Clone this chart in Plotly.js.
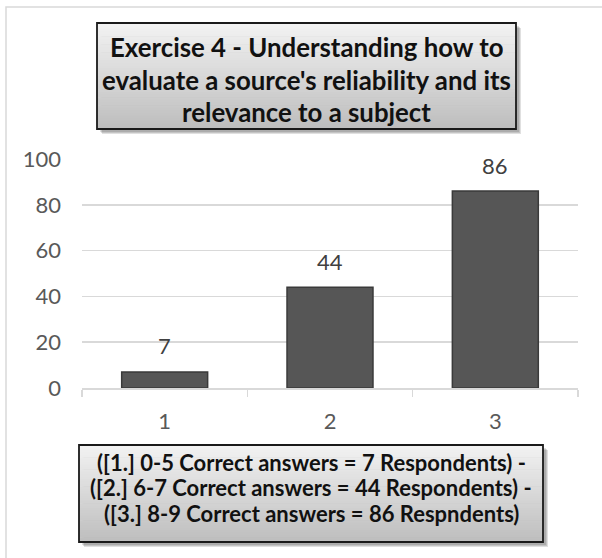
<!DOCTYPE html>
<html><head><meta charset="utf-8">
<script src="https://cdn.plot.ly/plotly-3.0.1.min.js"></script>
<style>html,body{margin:0;padding:0;background:#fff}#chart{width:602px;height:558px}</style>
</head><body><div id="chart"></div>
<script>
const categories = ['1', '2', '3'];
const respondents = [7, 44, 86];
const yTicks = [0, 20, 40, 60, 80, 100];
const titleLines = ['Exercise 4 - Understanding how to', "evaluate a source's reliability and its", 'relevance to a subject'];
const footLines = ['([1.] 0-5 Correct answers = 7 Respondents) -', '([2.] 6-7 Correct answers = 44 Respondents) -', '([3.] 8-9 Correct answers = 86 Respndents)'];

const W = 602, H = 558, L = 82, R = 24, T = 159, B = 170;
const pw = W - L - R, ph = H - T - B;
const PX = x => (x - L) / pw;
const PY = y => (H - B - y) / ph;
const FONT = 'Lato, "Open Sans", sans-serif';

const shapes = [];
// outer chart border
shapes.push({type:'rect', xref:'paper', yref:'paper', x0:PX(6), x1:PX(640), y0:PY(7), y1:PY(600), line:{color:'#d9d9d9', width:1.5}, fillcolor:'rgba(0,0,0,0)', layer:'below'});

function gradBox(x0, y0, x1, y1) {
  for (let i = 3; i >= 1; i--) {
    shapes.push({type:'rect', xref:'paper', yref:'paper', x0:PX(x0 + 2 + i), x1:PX(x1 + 2 + i), y0:PY(y0 + 2 + i), y1:PY(y1 + 2 + i), line:{width:0}, fillcolor:'rgba(0,0,0,0.12)'});
  }
  const n = 40;
  const c0 = [242, 242, 242], c1 = [190, 190, 190];
  for (let i = 0; i < n; i++) {
    const t = i / (n - 1);
    const c = c0.map((v, k) => Math.round(v + (c1[k] - v) * t));
    const ya = y0 + (y1 - y0) * i / n, yb = y0 + (y1 - y0) * (i + 1) / n + 0.6;
    shapes.push({type:'rect', xref:'paper', yref:'paper', x0:PX(x0), x1:PX(x1), y0:PY(ya), y1:PY(yb), line:{width:0}, fillcolor:'rgb(' + c.join(',') + ')'});
  }
  shapes.push({type:'rect', xref:'paper', yref:'paper', x0:PX(x0), x1:PX(x1), y0:PY(y0), y1:PY(y1), line:{color:'#1a1a1a', width:1.8}, fillcolor:'rgba(0,0,0,0)'});
}
gradBox(97, 23, 516, 129);
gradBox(79, 445, 543, 542);

const annotations = [];
const titleY = [46, 79, 111];
titleLines.forEach((t, i) => annotations.push({xref:'paper', yref:'paper', x:PX(306.5), y:PY(titleY[i]), text:'<b>' + t + '</b>', showarrow:false, xanchor:'center', yanchor:'middle', height:31, borderpad:0, font:{family:FONT, size:25.8, color:'#111'}}));
const footY = [462, 487, 513];
footLines.forEach((t, i) => annotations.push({xref:'paper', yref:'paper', x:PX(311), y:PY(footY[i]), text:'<b>' + t + '</b>', showarrow:false, xanchor:'center', yanchor:'middle', height:25, borderpad:0, font:{family:FONT, size:22, color:'#111'}}));
categories.forEach((c, i) => annotations.push({x:i, y:respondents[i], xref:'x', yref:'y', text:String(respondents[i]), showarrow:false, yanchor:'middle', yshift:26, font:{family:FONT, size:22, color:'#404040'}}));

const trace = {type:'bar', x:categories, y:respondents, width:0.52,
  marker:{color:'#565656', line:{color:'#3a3a3a', width:1.5}}, hoverinfo:'skip'};

const layout = {
  width:W, height:H, margin:{l:L, r:R, t:T, b:B, pad:0},
  paper_bgcolor:'#fff', plot_bgcolor:'#fff', showlegend:false,
  font:{family:FONT, color:'#595959'},
  xaxis:{type:'category', range:[-0.5, 2.5], showgrid:false, showline:true, linecolor:'#d9d9d9', linewidth:1.5,
    ticks:'outside', tickson:'boundaries', ticklen:7, tickcolor:'#d9d9d9', tickwidth:1.5,
    tickfont:{family:FONT, size:22, color:'#595959'}, ticklabelstandoff:13, fixedrange:true},
  yaxis:{range:[0,100], tickvals:yTicks, showgrid:true, gridcolor:'#d9d9d9', gridwidth:1.5, zeroline:false,
    showline:false, ticks:'', tickfont:{family:FONT, size:22, color:'#595959'}, ticklabelstandoff:20, fixedrange:true},
  shapes:shapes, annotations:annotations
};
Plotly.newPlot('chart', [trace], layout, {staticPlot:true, displayModeBar:false});
</script></body></html>
